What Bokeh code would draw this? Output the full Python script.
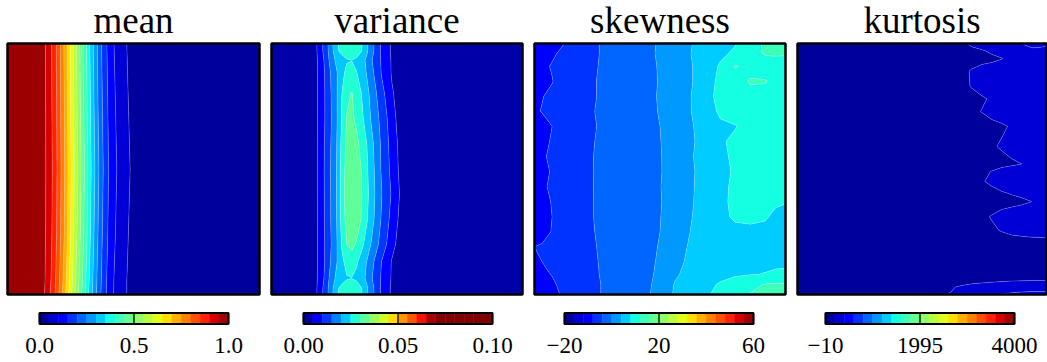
import numpy as np
from bokeh.plotting import figure
from bokeh.layouts import row
from bokeh.models import Range1d
from bokeh.core.properties import value
from bokeh.embed import file_html
from bokeh.resources import INLINE

# ---------------- data ----------------
titles = ["mean", "variance", "skewness", "kurtosis"]

tick_values = [[0.0, 0.5, 1.0], [0.0, 0.05, 0.10], [-20, 20, 60], [-10, 1995, 4000]]
tick_labels = [["0.0", "0.5", "1.0"], ["0.00", "0.05", "0.10"],
               ["\u221220", "20", "60"], ["\u221210", "1995", "4000"]]
level_ranges = [(0.0, 1.0), (0.0, 0.10), (-20, 60), (-10, 4000)]
n_bands = 20
var_color_bands = 14          # variance colours spread over the first 14 bands

# mean field: x nodes, row positions (fraction from top), values
mean_x = [0, 0.10, 0.14, 0.16, 0.18, 0.20, 0.22, 0.24, 0.26, 0.28, 0.30, 0.32,
          0.34, 0.36, 0.38, 0.40, 0.42, 0.44, 0.46, 0.48, 0.50, 0.55, 0.70, 1.0]
mean_rows = [0.0, 0.25, 0.5, 0.75, 0.95, 1.0]
mean_z = [
    [0.995, 0.99, 0.97, 0.931, 0.889, 0.831, 0.762, 0.686, 0.605, 0.525, 0.452, 0.375, 0.302, 0.238, 0.182, 0.138, 0.103, 0.081, 0.06, 0.045, 0.035, 0.02, 0.01, 0.005],
    [0.995, 0.99, 0.971, 0.933, 0.892, 0.836, 0.77, 0.693, 0.61, 0.535, 0.46, 0.385, 0.311, 0.248, 0.191, 0.146, 0.11, 0.087, 0.065, 0.05, 0.038, 0.022, 0.011, 0.005],
    [0.995, 0.99, 0.972, 0.935, 0.895, 0.84, 0.775, 0.70, 0.62, 0.545, 0.47, 0.395, 0.322, 0.258, 0.20, 0.153, 0.117, 0.092, 0.07, 0.054, 0.042, 0.024, 0.012, 0.005],
    [0.995, 0.99, 0.971, 0.933, 0.892, 0.836, 0.77, 0.693, 0.61, 0.535, 0.46, 0.385, 0.311, 0.248, 0.191, 0.146, 0.11, 0.087, 0.065, 0.05, 0.038, 0.022, 0.011, 0.005],
    [0.995, 0.99, 0.968, 0.927, 0.882, 0.822, 0.750, 0.672, 0.590, 0.512, 0.440, 0.365, 0.295, 0.233, 0.179, 0.136, 0.102, 0.080, 0.06, 0.045, 0.035, 0.02, 0.01, 0.005],
    [0.995, 0.99, 0.965, 0.922, 0.875, 0.812, 0.740, 0.660, 0.578, 0.500, 0.430, 0.357, 0.288, 0.228, 0.176, 0.134, 0.101, 0.080, 0.06, 0.045, 0.035, 0.02, 0.01, 0.005],
]

# variance field
var_x = [0, 0.15, 0.18, 0.20, 0.22, 0.24, 0.26, 0.28, 0.30, 0.32, 0.34, 0.36,
         0.38, 0.40, 0.42, 0.44, 0.46, 0.48, 0.50, 0.52, 0.55, 1.0]
var_rows = [0.0, 0.03, 0.068, 0.12, 0.2, 0.3, 0.4, 0.5, 0.6, 0.7, 0.8, 0.87, 0.935, 0.975, 1.0]
var_z = [
    [.001, .002, .0048, .009, .0138, .0188, .0245, .0265, .0275, .028, .0275, .0252, .0209, .0167, .0127, .0089, .0066, .0042, .003, .002, .0015, .0005],
    [.001, .002, .0048, .009, .0136, .0185, .0242, .0262, .0272, .0277, .0272, .0250, .0207, .0166, .0126, .0089, .0066, .0042, .003, .002, .0015, .0005],
    [.001, .002, .0045, .0080, .0126, .0178, .0212, .0232, .0246, .0249, .0240, .0218, .0190, .0152, .0123, .0092, .0068, .0045, .003, .002, .0015, .0005],
    [.001, .002, .0045, .0075, .0118, .0160, .0196, .0235, .0265, .0275, .0252, .0225, .0197, .0163, .0129, .0095, .0072, .0045, .003, .0022, .0015, .0005],
    [.001, .002, .0045, .0075, .0116, .0156, .0196, .0250, .0292, .0302, .0282, .0248, .0215, .0181, .0148, .0116, .0086, .0056, .0038, .0025, .0018, .0005],
    [.001, .002, .0045, .0075, .0115, .0154, .0196, .0254, .0302, .0310, .0288, .0260, .0227, .0191, .0162, .0132, .0102, .0068, .0045, .003, .002, .0005],
    [.001, .002, .0045, .0077, .0120, .0157, .0200, .0264, .0312, .0325, .0312, .0280, .0250, .0212, .0174, .0140, .0110, .0080, .0052, .0034, .0020, .0005],
    [.001, .002, .0045, .0079, .0122, .0160, .0202, .0269, .0320, .0340, .0330, .0295, .0258, .0219, .0179, .0142, .0114, .0085, .0055, .0035, .0020, .0005],
    [.001, .002, .0045, .0078, .0121, .0159, .0203, .0272, .0325, .0345, .0335, .0300, .0262, .0224, .0185, .0150, .0122, .0094, .0062, .0038, .0022, .0005],
    [.001, .002, .0045, .0077, .0120, .0158, .0201, .0268, .0318, .0338, .0328, .0293, .0256, .0217, .0178, .0143, .0113, .0083, .0054, .0034, .0020, .0005],
    [.001, .002, .0045, .0076, .0117, .0155, .0197, .0256, .0300, .0312, .0294, .0262, .0228, .0193, .0160, .0128, .0098, .0066, .0044, .0029, .0019, .0005],
    [.001, .002, .0045, .0075, .0118, .0160, .0198, .0238, .0268, .0278, .0255, .0228, .0198, .0164, .0130, .0097, .0072, .0046, .0031, .0022, .0015, .0005],
    [.001, .002, .0045, .0080, .0126, .0178, .0212, .0232, .0246, .0249, .0240, .0218, .0190, .0152, .0123, .0092, .0068, .0045, .003, .002, .0015, .0005],
    [.001, .002, .0048, .009, .0136, .0185, .0242, .0262, .0272, .0277, .0272, .0250, .0207, .0166, .0126, .0089, .0066, .0042, .003, .002, .0015, .0005],
    [.001, .002, .0048, .009, .0138, .0188, .0245, .0265, .0275, .028, .0275, .0252, .0209, .0167, .0127, .0089, .0066, .0042, .003, .002, .0015, .0005],
]

# skewness field
skew_x = [0.0, 0.03, 0.07, 0.12, 0.18, 0.24, 0.30, 0.37, 0.44, 0.50, 0.56, 0.62,
          0.68, 0.74, 0.80, 0.86, 0.92, 0.96, 1.0]
skew_rows = [0.0, 0.04, 0.09, 0.15, 0.21, 0.27, 0.33, 0.39, 0.45, 0.51, 0.57, 0.63,
             0.69, 0.75, 0.81, 0.87, 0.92, 0.96, 1.0]
skew_z = [
    [-10.0, -9.8, -9.2, -8.0, -6.0, -4.3, -3.3, -2.2, -0.8, 0.3, 2.0, 3.8, 5.2, 6.5, 7.8, 10.5, 12.6, 13.0, 13.0],
    [-9.6, -9.2, -8.4, -7.3, -5.8, -4.3, -3.3, -2.2, -0.8, 0.4, 2.0, 3.9, 5.8, 7.3, 8.6, 10.8, 12.3, 12.4, 12.2],
    [-9.0, -8.6, -7.8, -6.8, -5.5, -4.2, -3.3, -2.3, -1.1, 0.3, 2.0, 3.6, 6.0, 8.4, 12.3, 10.8, 10.4, 10.6, 11.0],
    [-9.0, -8.7, -8.1, -6.8, -5.3, -4.1, -3.2, -2.2, -1.0, 0.2, 1.8, 3.5, 6.4, 8.8, 10.5, 12.3, 12.2, 11.0, 10.5],
    [-8.3, -8.1, -7.5, -6.5, -5.2, -4.1, -3.3, -2.3, -1.0, 0.3, 2.2, 3.8, 6.8, 9.0, 10.5, 11.0, 11.0, 11.0, 11.0],
    [-8.3, -7.9, -7.3, -6.4, -5.1, -4.0, -3.2, -2.3, -1.0, 0.2, 1.9, 3.8, 6.5, 8.5, 10.0, 11.0, 11.3, 11.2, 11.0],
    [-9.0, -8.8, -8.0, -6.8, -5.3, -4.1, -3.3, -2.4, -1.0, 0.0, 1.6, 3.4, 6.0, 7.5, 7.8, 9.5, 11.5, 11.5, 11.5],
    [-9.2, -8.6, -7.8, -6.6, -5.2, -4.0, -3.2, -2.3, -1.0, -0.1, 1.5, 3.3, 5.5, 7.5, 8.8, 10.2, 11.3, 11.6, 11.6],
    [-8.6, -8.3, -7.6, -6.5, -5.1, -3.9, -3.1, -2.2, -1.1, -0.2, 1.6, 3.5, 5.8, 7.4, 8.5, 10.0, 11.0, 11.4, 11.5],
    [-9.3, -8.9, -7.7, -6.6, -5.2, -3.9, -3.1, -2.2, -1.2, -0.2, 1.4, 3.3, 5.5, 7.3, 8.3, 9.8, 10.8, 11.2, 11.3],
    [-8.8, -8.4, -7.6, -6.5, -5.1, -3.9, -3.1, -2.2, -1.1, -0.1, 1.5, 3.4, 5.6, 7.5, 8.4, 9.2, 9.5, 9.6, 9.6],
    [-8.2, -8.6, -7.9, -6.6, -5.2, -3.9, -3.1, -2.2, -1.1, -0.2, 1.6, 3.5, 5.6, 7.4, 8.6, 9.0, 8.8, 8.3, 8.1],
    [-9.0, -8.8, -8.0, -6.7, -5.2, -3.9, -3.1, -2.2, -1.1, -0.1, 1.7, 3.7, 5.8, 7.5, 8.3, 8.4, 8.2, 7.6, 7.4],
    [-8.9, -8.7, -7.9, -6.6, -5.2, -4.0, -3.2, -2.3, -1.1, 0.0, 1.9, 4.0, 6.0, 7.0, 7.5, 7.6, 7.5, 7.4, 7.3],
    [-8.0, -7.8, -7.2, -6.3, -5.1, -4.1, -3.3, -2.3, -1.0, 0.2, 2.4, 4.4, 5.8, 6.5, 7.0, 7.2, 7.3, 7.3, 7.3],
    [-8.3, -8.0, -7.5, -6.5, -5.3, -4.2, -3.3, -2.3, -0.9, 0.4, 2.8, 4.8, 6.2, 6.8, 7.2, 7.4, 7.5, 7.6, 7.6],
    [-8.6, -8.5, -7.9, -6.8, -5.4, -4.3, -3.3, -2.3, -0.8, 0.6, 3.5, 5.2, 6.5, 7.2, 7.6, 7.9, 8.1, 8.3, 8.4],
    [-9.3, -9.0, -8.4, -7.2, -5.6, -4.4, -3.4, -2.3, -0.7, 0.9, 4.3, 6.0, 7.2, 8.3, 9.5, 11.0, 12.2, 12.5, 12.5],
    [-9.8, -9.5, -8.8, -7.5, -5.8, -4.4, -3.4, -2.3, -0.6, 1.1, 4.6, 6.4, 7.6, 8.8, 10.5, 12.2, 12.5, 12.6, 12.6],
]

# kurtosis field
kurt_x = [0.0, 0.50, 0.62, 0.66, 0.70, 0.74, 0.78, 0.82, 0.86, 0.90, 0.94, 0.97, 1.0]
kurt_rows = [0.0, 0.03, 0.06, 0.11, 0.17, 0.22, 0.27, 0.33, 0.41, 0.48, 0.51, 0.55,
             0.60, 0.63, 0.69, 0.745, 0.785, 0.85, 0.94, 0.97, 1.0]
kurt_z = [
    [100, 100, 120, 150, 230, 280, 300, 330, 360, 395, 470, 450, 420],
    [100, 100, 110, 120, 140, 170, 220, 280, 300, 310, 330, 340, 340],
    [100, 100, 100, 110, 120, 130, 150, 185, 240, 280, 300, 300, 300],
    [100, 100, 120, 150, 205, 260, 280, 290, 290, 290, 290, 290, 290],
    [100, 100, 120, 150, 200, 255, 280, 290, 290, 290, 290, 280, 260],
    [100, 100, 110, 120, 140, 170, 210, 260, 290, 290, 280, 250, 230],
    [100, 100, 110, 130, 160, 195, 240, 270, 290, 290, 290, 290, 290],
    [100, 100, 100, 110, 120, 135, 150, 170, 205, 250, 280, 290, 290],
    [100, 100, 105, 115, 130, 150, 175, 205, 250, 280, 290, 290, 290],
    [100, 100, 100, 105, 110, 120, 130, 145, 165, 190, 240, 270, 280],
    [100, 100, 105, 115, 135, 160, 195, 240, 270, 285, 290, 290, 290],
    [100, 100, 110, 125, 150, 180, 215, 260, 280, 290, 290, 290, 290],
    [100, 100, 100, 110, 120, 135, 150, 170, 195, 215, 260, 280, 290],
    [100, 100, 100, 100, 105, 110, 120, 130, 145, 165, 190, 230, 250],
    [100, 100, 105, 115, 135, 160, 200, 245, 270, 280, 285, 285, 285],
    [100, 100, 100, 110, 120, 140, 165, 200, 240, 260, 270, 270, 270],
    [100, 100, 100, 100, 105, 110, 115, 120, 130, 140, 150, 155, 160],
    [100, 100, 100, 100, 100, 100, 100, 100, 100, 100, 100, 100, 100],
    [100, 100, 105, 110, 120, 130, 140, 150, 160, 165, 170, 170, 170],
    [100, 120, 180, 210, 240, 260, 280, 290, 300, 310, 320, 320, 320],
    [110, 140, 200, 260, 310, 350, 380, 400, 420, 430, 440, 440, 440],
]

# ---------------- styling helpers ----------------
def jet(t):
    t = min(max(t, 0.0), 1.0)
    def seg(pts):
        for (x0, y0), (x1, y1) in zip(pts[:-1], pts[1:]):
            if x0 <= t <= x1:
                return y0 + (y1 - y0) * (t - x0) / (x1 - x0) if x1 > x0 else y1
        return pts[-1][1]
    r = seg([(0, 0), (0.35, 0), (0.66, 1), (0.89, 1), (1, 0.5)])
    g = seg([(0, 0), (0.125, 0), (0.375, 1), (0.64, 1), (0.91, 0), (1, 0)])
    b = seg([(0, 0.5), (0.11, 1), (0.34, 1), (0.65, 0), (1, 0)])
    return "#%02x%02x%02x" % (round(r * 255), round(g * 255), round(b * 255))

std_colors = [jet((i + 0.5) / n_bands) for i in range(n_bands)]
var_colors = [jet((i + 0.5) / var_color_bands) if i < var_color_bands else jet(1.0)
              for i in range(n_bands)]
palettes = [std_colors, var_colors, std_colors, std_colors]

fields = [(mean_x, mean_rows, mean_z), (var_x, var_rows, var_z),
          (skew_x, skew_rows, skew_z), (kurt_x, kurt_rows, kurt_z)]

# ---------------- layout in pixels ----------------
SERIF = value("Liberation Serif")
FIG_H = 362
fig_w = [263, 263, 263, 258]
box_left = [7, 8, 8, 8]
box_w = [252, 251, 251, 249]
BOX_TOP, BOX_H = 43, 251
cb_left = [39, 40, 38, 36]
CB_W, CB_H = 189, 11
CB_BOTTOM = FIG_H - 323.5          # px from figure bottom to bar bottom

figs = []
for k in range(4):
    lo, hi = level_ranges[k]
    levels = np.linspace(lo, hi, n_bands + 1)
    xs, rows, zz = fields[k]
    x = np.array(xs, dtype=float)
    y = 1.0 - np.array(rows, dtype=float)[::-1]
    z = np.array(zz, dtype=float)[::-1, :]

    W = fig_w[k]
    bl, bw = box_left[k], box_w[k]
    below = FIG_H - BOX_TOP - BOX_H
    p = figure(width=W, height=FIG_H,
               x_range=Range1d(-bl / bw, (W - bl) / bw),
               y_range=Range1d(-below / BOX_H, 1 + BOX_TOP / BOX_H),
               output_backend="svg", toolbar_location=None,
               x_axis_location=None, y_axis_location=None,
               min_border=0)
    p.grid.visible = False
    p.outline_line_color = None
    p.background_fill_color = "white"
    p.border_fill_color = "white"

    span = hi - lo
    cl = cb_left[k]
    p.extra_x_ranges = {"cb": Range1d(lo - cl / CB_W * span, lo + (W - cl) / CB_W * span)}
    p.extra_y_ranges = {"cb": Range1d(-CB_BOTTOM / CB_H, (FIG_H - CB_BOTTOM) / CB_H)}

    # contour field
    p.contour(x, y, z, levels, fill_color=palettes[k],
              line_color="white", line_alpha=0.3, line_width=0.7)
    p.quad(left=[0], right=[1], bottom=[0], top=[1], fill_color=None,
           line_color="black", line_width=2.5)
    # title
    p.text(x=[0.5], y=[1.0], text=[titles[k]], y_offset=-23,
           text_align="center", text_baseline="middle",
           text_font=SERIF, text_font_size="37px", text_color="black")

    # colour bar
    p.quad(left=levels[:-1], right=levels[1:], bottom=0, top=1,
           fill_color=palettes[k], line_color=palettes[k], line_width=0.5,
           x_range_name="cb", y_range_name="cb")
    mid = tick_values[k][1]
    p.segment(x0=[mid], y0=[0], x1=[mid], y1=[1], line_color="black",
              line_width=1.3, x_range_name="cb", y_range_name="cb")
    p.quad(left=[lo], right=[hi], bottom=[0], top=[1], fill_color=None,
           line_color="black", line_width=2.2, x_range_name="cb", y_range_name="cb")
    p.text(x=tick_values[k], y=[0] * 3, text=tick_labels[k], y_offset=21,
           text_align="center", text_baseline="middle",
           text_font=SERIF, text_font_size="23px", text_color="black",
           x_range_name="cb", y_range_name="cb")
    figs.append(p)

layout = row(*figs, spacing=0)
open("out.html", "w").write(file_html(layout, INLINE))
